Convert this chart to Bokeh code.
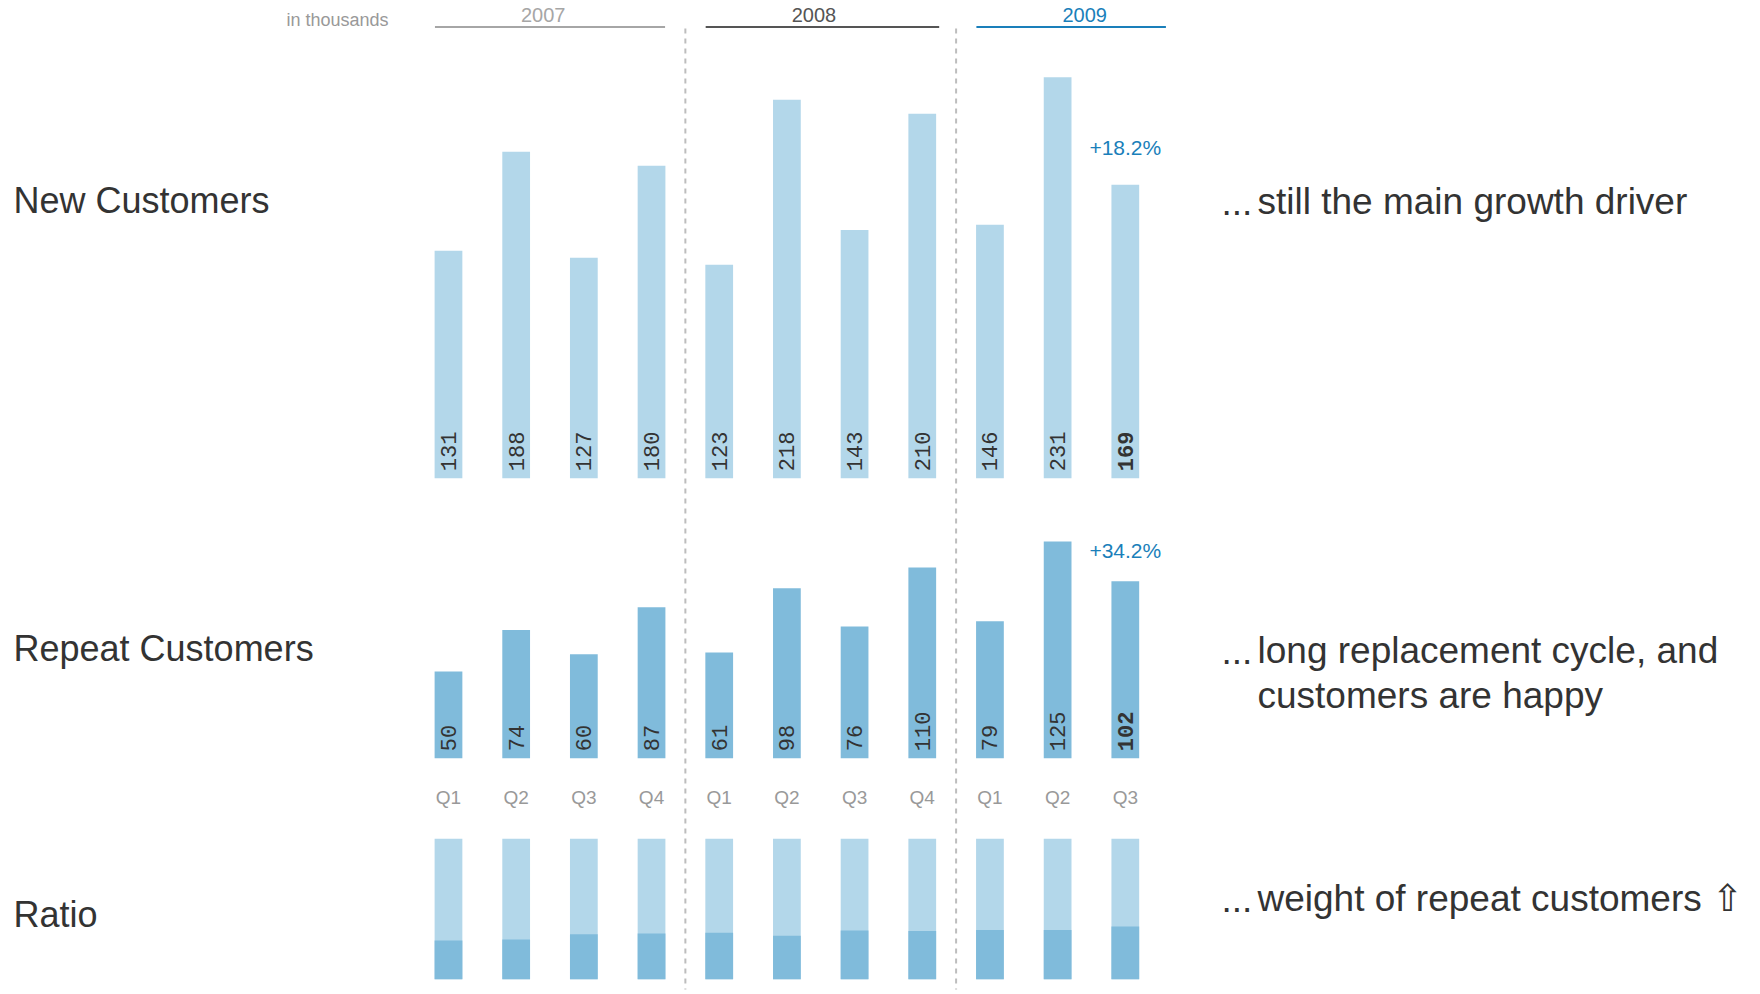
import numpy as np
from bokeh.plotting import figure
from bokeh.models import Range1d, ColumnDataSource
from bokeh.core.properties import value
from bokeh.embed import file_html
from bokeh.resources import INLINE

# ---------------- data ----------------
quarters = ["Q1", "Q2", "Q3", "Q4", "Q1", "Q2", "Q3", "Q4", "Q1", "Q2", "Q3"]
years = ["2007", "2008", "2009"]
year_first = [0, 4, 8]
year_last = [3, 7, 10]
new_customers = [131, 188, 127, 180, 123, 218, 143, 210, 146, 231, 169]
repeat_customers = [50, 74, 60, 87, 61, 98, 76, 110, 79, 125, 102]
row_labels = ["New Customers", "Repeat Customers", "Ratio"]
note_lines = ["still the main growth driver",
              "long replacement cycle, and",
              "customers are happy",
              "weight of repeat customers \u21e7"]
unit_label = "in thousands"

# ---------------- styling ----------------
W, H = 1760, 994
LIGHT = "#b3d7ea"
DARK = "#80bbdb"
BLUE = "#1a7fba"
TXT = "#333333"
GRAY = "#999999"
SANS = value("Liberation Sans")
MONO = value("Liberation Mono")
year_colors = ["#a6a6a6", "#555555", BLUE]
year_line_pad = [0.2, 0.25, 0.6]

n = len(quarters)
idx = np.arange(n)
new_arr = np.array(new_customers, dtype=float)
rep_arr = np.array(repeat_customers, dtype=float)
ratio = rep_arr / (new_arr + rep_arr)
styles = ["normal"] * (n - 1) + ["bold"]

src = ColumnDataSource(dict(
    i=idx, q=quarters, new=new_arr, rep=rep_arr, ratio=ratio, one=np.ones(n),
    new_lbl=[str(v) for v in new_customers],
    rep_lbl=[str(v) for v in repeat_customers],
    style=styles,
))

p = figure(width=W, height=H, x_range=Range1d(0, W), y_range=Range1d(H, 0),
           output_backend="svg", toolbar_location=None, min_border=0,
           x_axis_location=None, y_axis_location=None,
           outline_line_color=None, background_fill_color="white",
           border_fill_color="white")
p.xgrid.visible = False
p.ygrid.visible = False

# quarter-index horizontal scale and per-panel value scales
p.extra_x_ranges = {"q": Range1d(-6.619, 19.385)}
p.extra_y_ranges = {
    "new": Range1d(-297.4, 275.2),
    "rep": Range1d(-136.3, 437.0),
    "ratio": Range1d(-0.1082, 6.966),
}
BW = 0.41

# separators between years
sep_x = [(year_last[k] + year_first[k + 1]) / 2 for k in range(len(years) - 1)]
p.segment(x0=sep_x, x1=sep_x, y0=28, y1=989, x_range_name="q",
          line_color="#bdbdbd", line_width=2, line_dash="5 5")

# New customers
p.vbar(x="i", top="new", bottom=0, width=BW, source=src, x_range_name="q",
       y_range_name="new", fill_color=LIGHT, line_color=None)
p.text(x="i", y=0, text="new_lbl", source=src, x_range_name="q", y_range_name="new",
       angle=np.pi / 2, y_offset=-7, text_align="left", text_baseline="middle",
       text_font=MONO, text_font_size="22px", text_font_style="style", text_color=TXT)

# Repeat customers
p.vbar(x="i", top="rep", bottom=0, width=BW, source=src, x_range_name="q",
       y_range_name="rep", fill_color=DARK, line_color=None)
p.text(x="i", y=0, text="rep_lbl", source=src, x_range_name="q", y_range_name="rep",
       angle=np.pi / 2, y_offset=-7, text_align="left", text_baseline="middle",
       text_font=MONO, text_font_size="22px", text_font_style="style", text_color=TXT)

# growth annotations (Q3 2009 vs Q3 2008)
last = n - 1
prev = last - 4
pct_new = "+%.1f%%" % ((new_customers[last] / new_customers[prev] - 1) * 100)
pct_rep = "+%.1f%%" % ((repeat_customers[last] / repeat_customers[prev] - 1) * 100)
p.text(x=[last], y=[new_customers[last]], text=[pct_new], x_range_name="q",
       y_range_name="new", y_offset=-37, text_align="center",
       text_baseline="alphabetic", text_font=SANS, text_font_size="21px",
       text_color=BLUE)
p.text(x=[last], y=[repeat_customers[last]], text=[pct_rep], x_range_name="q",
       y_range_name="rep", y_offset=-31, text_align="center",
       text_baseline="alphabetic", text_font=SANS, text_font_size="21px",
       text_color=BLUE)

# Ratio
p.vbar(x="i", top="one", bottom=0, width=BW, source=src, x_range_name="q",
       y_range_name="ratio", fill_color=LIGHT, line_color=None)
p.vbar(x="i", top="ratio", bottom=0, width=BW, source=src, x_range_name="q",
       y_range_name="ratio", fill_color=DARK, line_color=None)

# quarter labels
p.text(x="i", y=797, text="q", source=src, x_range_name="q",
       text_align="center", text_baseline="middle", text_font=SANS,
       text_font_size="19px", text_color=GRAY)

# year headers
for k, yr in enumerate(years):
    p.text(x=[year_first[k] + 1.4], y=[14.5], text=[yr], x_range_name="q",
           text_align="center", text_baseline="alphabetic", text_font=SANS,
           text_font_size="20px", text_color=year_colors[k])
    p.segment(x0=[year_first[k] - 0.2], x1=[year_last[k] + year_line_pad[k]],
              y0=[26.5], y1=[26.5], x_range_name="q",
              line_color=year_colors[k], line_width=2)

p.text(x=[388], y=[19.5], text=[unit_label], text_align="right",
       text_baseline="alphabetic", text_font=SANS, text_font_size="18px",
       text_color=GRAY)

# row labels
p.text(x=[13, 13, 13], y=[200, 648, 914], text=row_labels, text_align="left",
       text_baseline="alphabetic", text_font=SANS, text_font_size="36px",
       text_color=TXT)

# notes on the right
p.text(x=[1221, 1221, 1221], y=[201, 650, 898], text=["...", "...", "..."],
       text_align="left", text_baseline="alphabetic", text_font=SANS,
       text_font_size="37px", text_color=TXT)
p.text(x=[1257, 1257, 1257, 1257], y=[201, 650, 695, 898], text=note_lines,
       text_align="left", text_baseline="alphabetic", text_font=SANS,
       text_font_size="37px", text_color=TXT)

open("out.html", "w").write(file_html(p, INLINE))
